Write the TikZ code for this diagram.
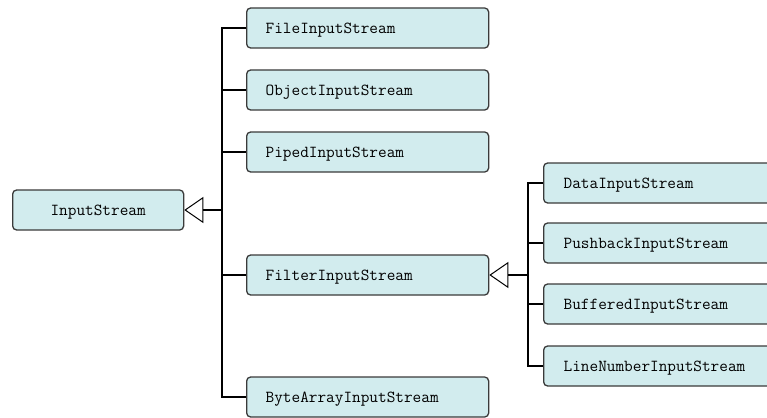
\documentclass[tikz,border=0pt]{standalone}
\usetikzlibrary{arrows.meta}
\definecolor{boxfill}{HTML}{D2ECEE}
\definecolor{boxline}{HTML}{3A3A3A}
\begin{document}
\begin{tikzpicture}[x=1pt,y=-1pt,
  cls/.style={draw=boxline,line width=1.3pt,fill=boxfill,rounded corners=4pt,
    minimum height=40pt,inner sep=0pt,font=\ttfamily\fontsize{16.8}{19}\selectfont,
    text depth=0pt},
  leftcls/.style={cls,minimum width=242pt,text width=204pt,align=left},
  rightcls/.style={cls,minimum width=232pt,text width=192pt,align=left},
  bus/.style={line width=2.4pt,black},
  inherit/.style={line width=2.4pt,-{Triangle[open,length=19pt,width=26pt,line width=1pt]}}
]
\useasboundingbox (0,0) rectangle (767,417);
\clip (0,0) rectangle (767,417);

% base class
\node[cls,minimum width=171pt,anchor=west] (is) at (12,210) {InputStream};

% direct subclasses
\node[leftcls,anchor=west] (file) at (246,28) {FileInputStream};
\node[leftcls,anchor=west] (obj) at (246,90) {ObjectInputStream};
\node[leftcls,anchor=west] (pipe) at (246,152) {PipedInputStream};
\node[leftcls,anchor=west] (filter) at (246,275) {FilterInputStream};
\node[leftcls,anchor=west] (bytes) at (246,397) {ByteArrayInputStream};

% filter subclasses
\node[rightcls,anchor=west] (data) at (543,183) {DataInputStream};
\node[rightcls,anchor=west] (push) at (543,243) {PushbackInputStream};
\node[rightcls,anchor=west] (buf) at (543,304) {BufferedInputStream};
\node[rightcls,anchor=west] (line) at (543,366) {LineNumberInputStream};

% bus for InputStream subclasses
\coordinate (j1) at (222,210);
\draw[bus] (file.west) -- (file.west -| j1) -- (bytes.west -| j1) -- (bytes.west);
\foreach \n in {obj,pipe,filter}
  \draw[bus] (\n.west -| j1) -- (\n.west);
\draw[inherit] (j1) -- (is.east);

% bus for FilterInputStream subclasses
\coordinate (j2) at (528,275);
\draw[bus] (data.west) -- (data.west -| j2) -- (line.west -| j2) -- (line.west);
\foreach \n in {push,buf}
  \draw[bus] (\n.west -| j2) -- (\n.west);
\draw[inherit] (j2) -- (filter.east);
\end{tikzpicture}
\end{document}
